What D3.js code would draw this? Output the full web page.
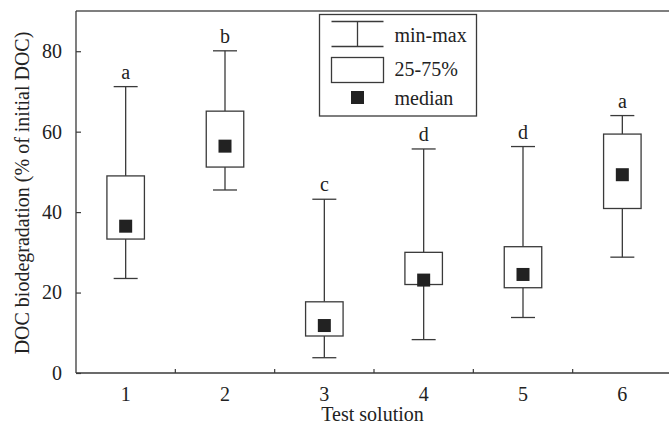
<!DOCTYPE html>
<html>
<head>
<meta charset="utf-8">
<script src="https://cdn.jsdelivr.net/npm/d3@7"></script>
<style>
  html, body { margin: 0; padding: 0; background: #fff; }
  svg text { font-family: "Liberation Serif", "Times New Roman", Times, "DejaVu Serif", serif !important; }
</style>
</head>
<body>
<svg id="chart" width="669" height="429"></svg>
<script>
// Test solutions and their DOC biodegradation summaries (% of initial DOC)
const solutions = ["1", "2", "3", "4", "5", "6"];
const minValues    = [23.5, 45.5, 3.8, 8.3, 13.8, 28.8];
const q1Values     = [33.3, 51.2, 9.2, 22.0, 21.2, 40.9];
const medianValues = [36.5, 56.4, 11.8, 23.1, 24.5, 49.3];
const q3Values     = [49.0, 65.1, 17.7, 30.0, 31.4, 59.4];
const maxValues    = [71.2, 80.1, 43.2, 55.7, 56.3, 64.0];
const groupLetters = ["a", "b", "c", "d", "d", "a"];
const yTicks = [0, 20, 40, 60, 80];

const svg = d3.select("#chart");
const W = 669, H = 429;
const margin = { left: 76, top: 11, right: -3, bottom: 56 };
const x0 = margin.left, x1 = W - margin.right;
const y0 = H - margin.bottom, y1 = margin.top;
const serif = '"Liberation Serif", "Times New Roman", Times, "DejaVu Serif", serif';

const x = d3.scaleBand().domain(solutions).range([x0, x1]).padding(0);
const y = d3.scaleLinear().domain([0, 90]).range([y0, y1]);

const ink = "#222";
const lineCol = "#3a3a3a";

// Frame: top edge
svg.append("line").attr("x1", x0).attr("x2", W).attr("y1", y1).attr("y2", y1)
  .attr("stroke", "#555").attr("stroke-width", 1.5);

// Y axis with inward ticks
const yAxis = svg.append("g").attr("transform", `translate(${x0},0)`)
  .call(d3.axisLeft(y).tickValues(yTicks).tickSizeInner(-5).tickSizeOuter(0).tickPadding(14));
yAxis.attr("font-family", serif);
yAxis.select(".domain").attr("stroke", lineCol).attr("stroke-width", 1.3)
  .attr("d", `M0,${y0}V${y1}`);
yAxis.selectAll(".tick line").attr("stroke", lineCol).attr("stroke-width", 1.2);
yAxis.selectAll(".tick text").attr("font-size", 20).attr("fill", ink);

// X axis: labels at band centres, inward ticks at band boundaries
const xAxis = svg.append("g").attr("transform", `translate(0,${y0})`)
  .call(d3.axisBottom(x).tickSize(0).tickPadding(14));
xAxis.attr("font-family", serif);
xAxis.select(".domain").attr("stroke", lineCol).attr("stroke-width", 1.3)
  .attr("d", `M${x0},0H${W}`);
xAxis.selectAll(".tick text").attr("font-size", 20).attr("fill", ink);
xAxis.selectAll(".sep").data(solutions.slice(1)).join("line").attr("class", "sep")
  .attr("x1", d => x(d)).attr("x2", d => x(d)).attr("y1", 0).attr("y2", -4)
  .attr("stroke", lineCol).attr("stroke-width", 1.2);

// Axis titles
svg.append("text").attr("x", (x0 + W) / 2).attr("y", 421)
  .attr("text-anchor", "middle").attr("font-size", 20).attr("fill", ink)
  .attr("font-family", serif)
  .text("Test solution");
svg.append("text")
  .attr("transform", `translate(29,${(y0 + y1) / 2 + 1}) rotate(-90)`)
  .attr("text-anchor", "middle").attr("font-size", 20).attr("fill", ink)
  .attr("font-family", serif)
  .text("DOC biodegradation (% of initial DOC)");

// Box plots
const boxW = 37.5, capW = 24, medS = 13;
const data = solutions.map((s, i) => ({
  s, min: minValues[i], q1: q1Values[i], med: medianValues[i],
  q3: q3Values[i], max: maxValues[i], letter: groupLetters[i]
}));
const g = svg.append("g");
const box = g.selectAll(".box").data(data).join("g").attr("class", "box")
  .attr("transform", d => `translate(${x(d.s) + x.bandwidth() / 2},0)`);

box.append("line").attr("x1", 0).attr("x2", 0)
  .attr("y1", d => y(d.max)).attr("y2", d => y(d.q3))
  .attr("stroke", lineCol).attr("stroke-width", 1.3);
box.append("line").attr("x1", 0).attr("x2", 0)
  .attr("y1", d => y(d.q1)).attr("y2", d => y(d.min))
  .attr("stroke", lineCol).attr("stroke-width", 1.3);
box.append("line").attr("x1", -capW / 2).attr("x2", capW / 2)
  .attr("y1", d => y(d.max)).attr("y2", d => y(d.max))
  .attr("stroke", lineCol).attr("stroke-width", 1.3);
box.append("line").attr("x1", -capW / 2).attr("x2", capW / 2)
  .attr("y1", d => y(d.min)).attr("y2", d => y(d.min))
  .attr("stroke", lineCol).attr("stroke-width", 1.3);
box.append("rect").attr("x", -boxW / 2).attr("width", boxW)
  .attr("y", d => y(d.q3)).attr("height", d => y(d.q1) - y(d.q3))
  .attr("fill", "#fff").attr("stroke", lineCol).attr("stroke-width", 1.3);
box.append("rect").attr("x", -medS / 2).attr("width", medS)
  .attr("y", d => y(d.med) - medS / 2).attr("height", medS)
  .attr("fill", ink);
box.append("text").attr("text-anchor", "middle")
  .attr("y", d => y(d.max) - 8)
  .attr("font-size", 20).attr("fill", ink).attr("font-family", serif)
  .text(d => d.letter);

// Legend
const lg = svg.append("g").attr("transform", "translate(319.5,14.5)");
lg.append("rect").attr("width", 157).attr("height", 101.5)
  .attr("fill", "#fff").attr("stroke", lineCol).attr("stroke-width", 1.3);
const sx0 = 12, sx1 = 64, sxm = 38;
lg.append("line").attr("x1", sx0).attr("x2", sx1).attr("y1", 7).attr("y2", 7)
  .attr("stroke", lineCol).attr("stroke-width", 1.3);
lg.append("line").attr("x1", sx0).attr("x2", sx1).attr("y1", 32).attr("y2", 32)
  .attr("stroke", lineCol).attr("stroke-width", 1.3);
lg.append("line").attr("x1", sxm).attr("x2", sxm).attr("y1", 7).attr("y2", 32)
  .attr("stroke", lineCol).attr("stroke-width", 1.3);
lg.append("rect").attr("x", sx0).attr("width", sx1 - sx0).attr("y", 43).attr("height", 25)
  .attr("fill", "#fff").attr("stroke", lineCol).attr("stroke-width", 1.3);
lg.append("rect").attr("x", sxm - medS / 2).attr("y", 76.5).attr("width", medS).attr("height", medS)
  .attr("fill", ink);
const legendLabels = ["min-max", "25-75%", "median"];
lg.selectAll(".lt").data(legendLabels).join("text").attr("class", "lt")
  .attr("x", 75).attr("y", (d, i) => [27, 61.5, 90.5][i])
  .attr("font-size", 20).attr("fill", ink).attr("font-family", serif)
  .text(d => d);
</script>
</body>
</html>
